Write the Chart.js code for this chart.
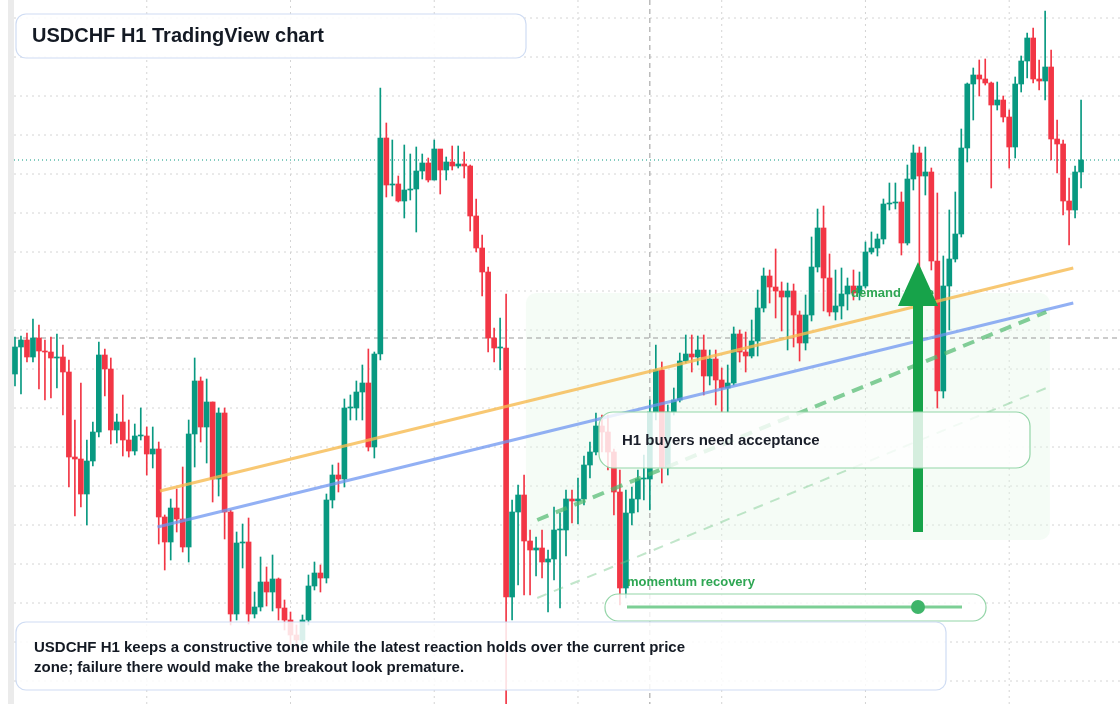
<!DOCTYPE html>
<html>
<head>
<meta charset="utf-8">
<script src="https://cdn.jsdelivr.net/npm/chart.js@4.4.1/dist/chart.umd.min.js"></script>
<style>
  html, body { margin: 0; padding: 0; background: #fff; }
  #wrap { position: relative; width: 1120px; height: 704px; }
</style>
</head>
<body>
<div id="wrap"><canvas id="chart" width="1120" height="704"></canvas></div>
<script>
const refPrice = 0.8700
const firstOpen = 374
const closePips = [347,340,357,338,351,352,358,357,372,457,459,494,461,432,355,369,430,422,440,451,436,436,454,449,517,542,508,519,547,434,381,427,402,479,413,512,614,543,542,614,607,582,592,579,608,620,635,640,620,586,573,578,500,475,479,408,408,392,383,447,354,138,185,184,201,190,189,171,163,180,149,170,162,166,164,166,216,248,272,338,348,348,597,512,495,541,550,548,562,559,530,530,499,501,499,465,452,426,432,452,492,588,513,499,479,479,412,370,467,412,400,361,354,357,350,376,359,380,388,383,334,352,356,341,308,276,287,291,297,291,315,343,315,267,228,278,312,306,294,286,293,286,252,248,239,204,203,202,243,179,153,176,172,261,391,286,259,234,148,84,75,79,83,105,100,117,147,84,61,38,79,81,67,139,144,201,210,172,160]
const highPips = [337,336,333,319,325,340,337,334,345,360,420,383,440,422,342,349,358,414,395,420,424,408,427,427,442,515,499,489,467,420,358,377,379,402,408,408,510,532,524,518,592,557,567,555,578,600,612,625,615,575,562,565,494,465,463,399,395,381,365,349,352,88,123,140,176,145,154,147,154,158,140,158,157,146,146,152,165,199,235,267,328,318,294,500,485,475,530,537,530,550,507,513,490,490,478,456,442,413,415,415,449,470,490,487,470,455,400,345,362,405,388,353,335,335,336,335,350,350,368,365,327,330,332,320,290,268,270,249,282,283,284,311,295,237,209,206,254,270,268,278,270,272,242,232,234,199,183,183,192,165,145,147,147,168,193,256,210,192,129,83,68,60,59,82,82,96,110,77,56,33,28,60,11,50,120,140,178,166,100]
const lowPips = [386,394,362,362,389,400,398,388,415,487,516,507,525,466,437,396,444,443,456,457,455,440,475,468,544,570,560,532,552,562,467,442,463,502,496,539,625,620,568,624,618,611,606,611,620,630,645,650,648,625,590,592,583,508,492,487,420,420,420,451,458,360,197,196,202,218,200,232,179,182,180,194,180,170,168,178,231,252,296,352,362,370,704,620,585,595,595,576,578,612,580,608,556,523,524,505,478,455,452,470,515,605,598,525,512,500,510,420,483,475,415,402,363,372,365,395,385,405,412,412,385,362,372,358,356,312,303,318,331,350,347,361,350,321,272,311,316,320,319,310,300,300,288,254,256,244,210,209,255,245,190,280,195,270,408,398,330,262,237,162,120,96,85,188,110,122,168,158,92,78,83,90,100,160,173,215,245,218,188]
const emptySlots = 6

// overlay levels, same pip units; x in candle index
const gridPips = [18,57,96,135,174,213,252,291,330,369,408,447,486,525,564,603,642,681]
const gridIdx = [22,46,70,94,118,142,166]
const lastPricePips = 160
const refLevelPips = 338
const crosshairIdx = 106
const orangeTrend = [[24.2,491],[176.7,268]]
const blueTrend = [[23.8,527],[176.7,303]]
const channelTop = [[87.2,520],[172.2,312]]
const channelLow = [[87.2,598],[172.2,388]]

const toPrice = p => +(refPrice - p / 10000).toFixed(4)
const n = closePips.length
const labels = Array.from({length: n + emptySlots}, (_, i) => String(i))
const openPips = closePips.map((c, i) => i === 0 ? firstOpen : closePips[i - 1])
const up = closePips.map((c, i) => c <= openPips[i])
const green = '#089981', red = '#f23645'
const colors = up.map(u => u ? green : red)

const bodies = closePips.map((c, i) => [toPrice(openPips[i]), toPrice(c)])
const wicks = closePips.map((c, i) => [toPrice(lowPips[i]), toPrice(highPips[i])])

function roundRect(ctx, x, y, w, h, r) {
  ctx.beginPath()
  ctx.moveTo(x + r, y)
  ctx.arcTo(x + w, y, x + w, y + h, r)
  ctx.arcTo(x + w, y + h, x, y + h, r)
  ctx.arcTo(x, y + h, x, y, r)
  ctx.arcTo(x, y, x + w, y, r)
  ctx.closePath()
}

const underlay = {
  id: 'underlay',
  beforeDatasetsDraw(chart) {
    const {ctx, scales: {x, y}} = chart
    const X = i => x.getPixelForValue(i)
    const Y = p => y.getPixelForValue(toPrice(p))
    ctx.save()
    ctx.fillStyle = '#ebebeb'
    ctx.fillRect(8, 0, 6, 704)
    ctx.strokeStyle = '#d4d4d4'
    ctx.lineWidth = 1
    ctx.setLineDash([2, 4])
    gridPips.forEach(p => { ctx.beginPath(); ctx.moveTo(14, Y(p)); ctx.lineTo(1120, Y(p)); ctx.stroke() })
    gridIdx.forEach(i => { ctx.beginPath(); ctx.moveTo(X(i), 0); ctx.lineTo(X(i), 704); ctx.stroke() })
    // demand zone
    ctx.setLineDash([])
    ctx.fillStyle = 'rgba(225,245,230,0.35)'
    roundRect(ctx, X(85.3), Y(293), X(172.8) - X(85.3), Y(540) - Y(293), 10)
    ctx.fill()
    ctx.strokeStyle = '#999'
    ctx.setLineDash([5, 4])
    ctx.beginPath(); ctx.moveTo(14, Y(refLevelPips)); ctx.lineTo(1120, Y(refLevelPips)); ctx.stroke()
    ctx.beginPath(); ctx.moveTo(X(crosshairIdx), 0); ctx.lineTo(X(crosshairIdx), 704); ctx.stroke()
    ctx.strokeStyle = '#089981'
    ctx.setLineDash([1, 3])
    ctx.beginPath(); ctx.moveTo(14, Y(lastPricePips)); ctx.lineTo(1120, Y(lastPricePips)); ctx.stroke()
    ctx.restore()
  }
}

const overlay = {
  id: 'overlay',
  afterDatasetsDraw(chart) {
    const {ctx, scales: {x, y}} = chart
    const X = i => x.getPixelForValue(i)
    const Y = p => y.getPixelForValue(toPrice(p))
    const seg = (pts, color, w, dash) => {
      ctx.strokeStyle = color; ctx.lineWidth = w; ctx.setLineDash(dash)
      ctx.beginPath(); ctx.moveTo(X(pts[0][0]), Y(pts[0][1])); ctx.lineTo(X(pts[1][0]), Y(pts[1][1])); ctx.stroke()
    }
    ctx.save()
    ctx.lineCap = 'butt'
    seg(orangeTrend, 'rgba(246,186,80,0.8)', 3, [])
    seg(blueTrend, 'rgba(110,150,240,0.75)', 3, [])
    seg(channelTop, 'rgba(80,185,110,0.7)', 4, [12, 8])
    seg(channelLow, 'rgba(120,200,140,0.45)', 2, [10, 8])
    ctx.setLineDash([])

    ctx.font = 'bold 13px "Liberation Sans", Arial, sans-serif'
    ctx.fillStyle = '#2ea653'
    ctx.textBaseline = 'middle'
    ctx.fillText('demand zone', 851, 293)

    // arrow
    ctx.fillStyle = '#17a34a'
    ctx.fillRect(913, 300, 10, 232)
    ctx.beginPath(); ctx.moveTo(918, 262); ctx.lineTo(938, 306); ctx.lineTo(898, 306); ctx.closePath(); ctx.fill()

    // callout
    ctx.fillStyle = 'rgba(255,255,255,0.82)'
    ctx.strokeStyle = '#94d5a8'; ctx.lineWidth = 1.2
    roundRect(ctx, 599, 412, 431, 56, 14); ctx.fill(); ctx.stroke()
    ctx.fillStyle = '#1b1f2a'
    ctx.font = 'bold 15px "Liberation Sans", Arial, sans-serif'
    ctx.fillText('H1 buyers need acceptance', 622, 441)

    // momentum slider
    ctx.fillStyle = '#2ea653'
    ctx.font = 'bold 13px "Liberation Sans", Arial, sans-serif'
    ctx.fillText('momentum recovery', 627, 582)
    ctx.fillStyle = 'rgba(255,255,255,0.8)'
    ctx.strokeStyle = '#94d5a8'
    roundRect(ctx, 605, 594, 381, 27, 13); ctx.fill(); ctx.stroke()
    ctx.strokeStyle = '#7ccf95'; ctx.lineWidth = 3
    ctx.beginPath(); ctx.moveTo(627, 607); ctx.lineTo(962, 607); ctx.stroke()
    ctx.fillStyle = '#3fb56a'
    ctx.beginPath(); ctx.arc(918, 607, 7, 0, Math.PI * 2); ctx.fill()

    // title and note boxes
    ctx.lineWidth = 1.2
    ctx.strokeStyle = '#cfdcf3'
    ctx.fillStyle = 'rgba(255,255,255,0.92)'
    roundRect(ctx, 16, 14, 510, 44, 10); ctx.fill(); ctx.stroke()
    ctx.fillStyle = '#141a24'
    ctx.font = 'bold 20px "Liberation Sans", Arial, sans-serif'
    ctx.fillText('USDCHF H1 TradingView chart', 32, 36)

    ctx.fillStyle = 'rgba(255,255,255,0.85)'
    ctx.strokeStyle = '#cfdcf3'
    roundRect(ctx, 16, 622, 930, 68, 10); ctx.fill(); ctx.stroke()
    ctx.fillStyle = '#141a24'
    ctx.font = 'bold 15px "Liberation Sans", Arial, sans-serif'
    ctx.fillText('USDCHF H1 keeps a constructive tone while the latest reaction holds over the current price', 34, 648)
    ctx.fillText('zone; failure there would make the breakout look premature.', 34, 668)
    ctx.restore()
  }
}

new Chart(document.getElementById('chart'), {
  type: 'bar',
  data: {
    labels,
    datasets: [
      { data: wicks, backgroundColor: colors, barThickness: 1, grouped: false, order: 2 },
      { data: bodies, backgroundColor: colors, barThickness: 5, minBarLength: 1, grouped: false, order: 1 }
    ]
  },
  options: {
    responsive: false,
    animation: false,
    layout: { padding: { left: 12, right: 0, top: 0, bottom: 0 } },
    plugins: { legend: { display: false }, tooltip: { enabled: false } },
    scales: {
      x: { display: false, offset: true },
      y: { display: false, min: toPrice(704), max: refPrice }
    }
  },
  plugins: [underlay, overlay]
})
</script>
</body>
</html>
